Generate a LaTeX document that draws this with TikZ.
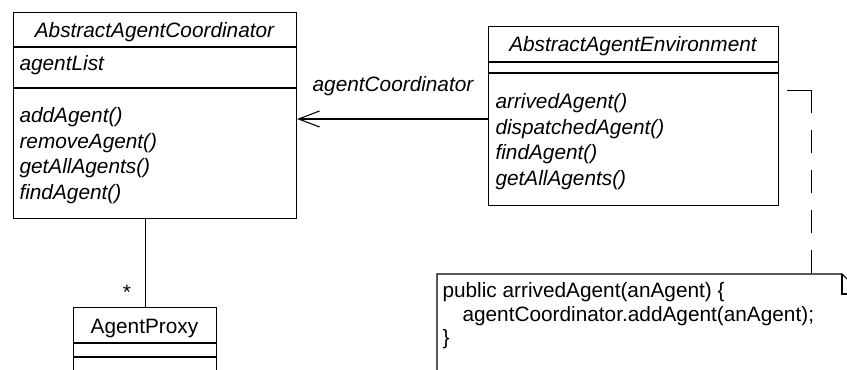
\documentclass[tikz,border=0pt]{standalone}
\usepackage{fontspec}
\setmainfont{Liberation Sans}
\usetikzlibrary{arrows.meta}

\begin{document}
\begin{tikzpicture}[x=0.75pt, y=-0.75pt, line width=0.8pt,
	classbox/.style = {draw, rectangle, inner sep=0pt, anchor=north west},
	classname/.style = {inner sep=0pt, anchor=base, font=\fontsize{15.6}{18}\selectfont\itshape},
	member/.style = {inner sep=0pt, anchor=base west, font=\fontsize{15.6}{18}\selectfont\itshape},
	codeline/.style = {inner sep=0pt, anchor=base west, font=\fontsize{15.6}{18}\selectfont},
	notelink/.style = {line width=0.7pt, dash pattern=on 35.25pt off 12.75pt on 17.25pt off 12.75pt on 17.25pt off 12.75pt on 17.25pt off 12.75pt on 17.25pt off 12.75pt}]
	\useasboundingbox (0,0) rectangle (847,370);
	\clip (0,0) rectangle (847,370);

	% coordinator class
	\node[classbox, minimum width=212.25pt, minimum height=154.5pt] (coord) at (13,12) {};
	\draw (coord.west |- 0,47) -- (coord.east |- 0,47);
	\draw (coord.west |- 0,88) -- (coord.east |- 0,88);
	\node[classname] (coordname) at (154.5,38) {AbstractAgentCoordinator};
	\node[member] (agentlist) at (19,71) {agentList};
	\node[member] (add) at (19,123) {addAgent()};
	\node[member] (remove) at (19,148.5) {removeAgent()};
	\node[member] (getall) at (19,174) {getAllAgents()};
	\node[member] (find) at (19,199.5) {findAgent()};

	% environment class
	\node[classbox, minimum width=217.5pt, minimum height=134.25pt] (env) at (488,26) {};
	\draw (env.west |- 0,62) -- (env.east |- 0,62);
	\draw (env.west |- 0,73) -- (env.east |- 0,73);
	\node[classname] (envname) at (633,52) {AbstractAgentEnvironment};
	\node[member] (arrived) at (495,109) {arrivedAgent()};
	\node[member] (dispatched) at (495,134.5) {dispatchedAgent()};
	\node[member] (envfind) at (495,160) {findAgent()};
	\node[member] (envgetall) at (495,185.5) {getAllAgents()};

	% proxy class
	\node[classbox, minimum width=107.25pt, minimum height=69.75pt] (proxy) at (73,307) {};
	\draw (proxy.west |- 0,343) -- (proxy.east |- 0,343);
	\draw (proxy.west |- 0,357) -- (proxy.east |- 0,357);
	\node[classname, font=\fontsize{15.6}{18}\selectfont] (proxyname) at (144.5,334) {AgentProxy};

	% associations
	\draw[-{Straight Barb[length=15.75pt,width=12pt]}] (env.west |- 0,119) -- (coord.east |- 0,119);
	\node[classname] (role) at (393,92) {agentCoordinator};
	\draw (proxy.north |- coord.south) -- (proxy.north);
	\node[codeline, anchor=base] (many) at (127,300) {*};

	% note with folded corner
	\coordinate (nw) at (437,274);
	\coordinate (fold) at (842,274);
	\draw (437,400) -- (nw) -- (fold) -- (862,294) -- (862,400);
	\draw (fold) -- (842,294) -- (862,294);
	\node[codeline] (line1) at (442,298) {public arrivedAgent(anAgent) \{};
	\node[codeline] (line2) at (462,321.5) {agentCoordinator.addAgent(anAgent);};
	\node[codeline] (line3) at (442,345) {\}};

	\coordinate (envanchor) at (787,90);
	\coordinate (noteanchor) at (811,274);
	\draw[notelink] (envanchor) -| (noteanchor);
\end{tikzpicture}
\end{document}
